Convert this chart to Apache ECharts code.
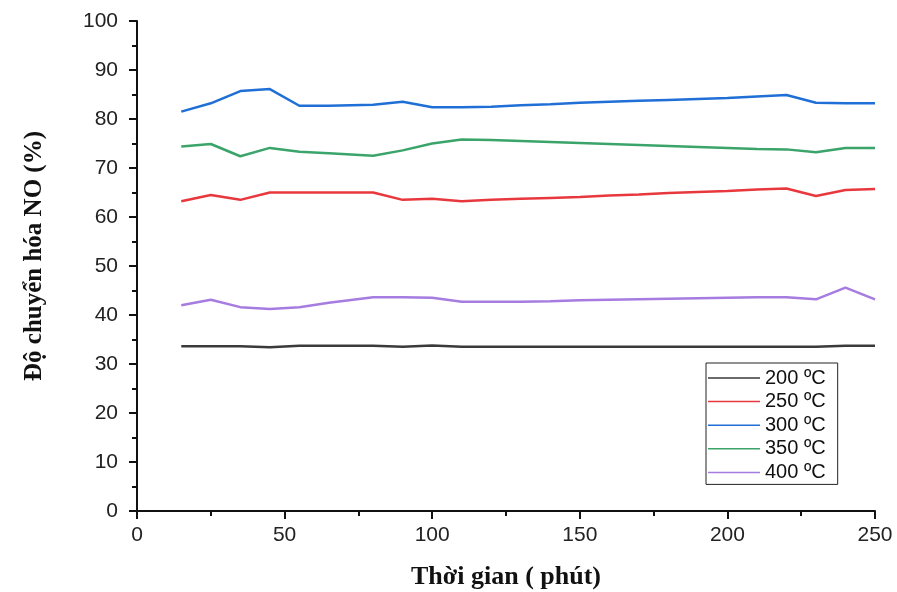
<!DOCTYPE html>
<html>
<head>
<meta charset="utf-8">
<script src="https://cdn.jsdelivr.net/npm/echarts@6/dist/echarts.min.js"></script>
<style>
html,body{margin:0;padding:0;background:#fff;}
#chart{width:897px;height:592px;}
</style>
</head>
<body>
<div id="chart"></div>
<script>
const time    = [15, 25, 35, 45, 55, 65, 80, 90, 100, 110, 120, 130, 140, 150, 160, 170, 180, 190, 200, 210, 220, 230, 240, 250];
const conv200 = [33.6, 33.6, 33.6, 33.4, 33.7, 33.7, 33.7, 33.5, 33.8, 33.5, 33.5, 33.5, 33.5, 33.5, 33.5, 33.5, 33.5, 33.5, 33.5, 33.5, 33.5, 33.5, 33.7, 33.7];
const conv250 = [63.2, 64.5, 63.5, 65.0, 65.0, 65.0, 65.0, 63.5, 63.7, 63.2, 63.5, 63.7, 63.9, 64.1, 64.4, 64.6, 64.9, 65.1, 65.3, 65.6, 65.8, 64.3, 65.5, 65.7];
const conv300 = [81.5, 83.2, 85.7, 86.1, 82.7, 82.7, 82.9, 83.5, 82.4, 82.4, 82.5, 82.8, 83.0, 83.3, 83.5, 83.7, 83.9, 84.1, 84.3, 84.6, 84.9, 83.3, 83.2, 83.2];
const conv350 = [74.4, 74.9, 72.4, 74.1, 73.3, 73.0, 72.5, 73.6, 75.0, 75.8, 75.7, 75.5, 75.3, 75.1, 74.9, 74.7, 74.5, 74.3, 74.1, 73.9, 73.8, 73.2, 74.1, 74.1];
const conv400 = [42.0, 43.1, 41.6, 41.2, 41.6, 42.5, 43.6, 43.6, 43.5, 42.7, 42.7, 42.7, 42.8, 43.0, 43.1, 43.2, 43.3, 43.4, 43.5, 43.6, 43.6, 43.2, 45.6, 43.2];
const seriesNames = ['200 ºC', '250 ºC', '300 ºC', '350 ºC', '400 ºC'];
const xTitle = 'Thời gian ( phút)';
const yTitle = 'Độ chuyển hóa NO (%)';

const colors = ['#3a3a3a', '#e8383d', '#1f6fd6', '#3aa46a', '#a67ce0'];
const allData = [conv200, conv250, conv300, conv350, conv400];

const chart = echarts.init(document.getElementById('chart'));
const axisFont = {fontFamily: 'Liberation Sans', fontSize: 21, color: '#222'};
chart.setOption({
  backgroundColor: '#fff',
  animation: false,
  color: colors,
  grid: {left: 137, right: 22, top: 21, bottom: 81, containLabel: false, outerBoundsMode: 'none'},
  legend: {
    orient: 'vertical',
    left: 706, top: 363,
    data: seriesNames,
    icon: 'rect',
    itemWidth: 52, itemHeight: 1.5,
    itemGap: 3.6,
    padding: [5, 12, 2, 2],
    borderColor: '#222', borderWidth: 1,
    textStyle: {fontFamily: 'Liberation Sans', fontSize: 20, color: '#111'}
  },
  xAxis: {
    type: 'value', min: 0, max: 250, interval: 50,
    name: xTitle, nameLocation: 'middle', nameGap: 53,
    nameTextStyle: {fontFamily: 'Liberation Serif', fontWeight: 'bold', fontSize: 26, color: '#111'},
    axisLine: {show: true, onZero: false, lineStyle: {color: '#111', width: 2}},
    axisTick: {show: true, inside: false, length: 8, lineStyle: {color: '#111', width: 2}},
    minorTick: {show: true, splitNumber: 2, length: 5, lineStyle: {color: '#111', width: 2}},
    splitLine: {show: false},
    axisLabel: Object.assign({margin: 14}, axisFont)
  },
  yAxis: {
    type: 'value', min: 0, max: 100, interval: 10,
    name: yTitle, nameLocation: 'middle', nameGap: 90, nameRotate: 90,
    nameTextStyle: {fontFamily: 'Liberation Serif', fontWeight: 'bold', fontSize: 25, color: '#111', padding: [0, 0, 0, 20]},
    axisLine: {show: true, onZero: false, lineStyle: {color: '#111', width: 2}},
    axisTick: {show: true, inside: false, length: 8, lineStyle: {color: '#111', width: 2}},
    minorTick: {show: true, splitNumber: 2, length: 5, lineStyle: {color: '#111', width: 2}},
    splitLine: {show: false},
    axisLabel: Object.assign({margin: 19}, axisFont)
  },
  series: seriesNames.map((n, i) => ({
    name: n,
    type: 'line',
    symbol: 'none',
    data: time.map((t, j) => [t, allData[i][j]]),
    lineStyle: {width: 2.5, color: colors[i]},
    itemStyle: {color: colors[i]}
  }))
});
</script>
</body>
</html>
